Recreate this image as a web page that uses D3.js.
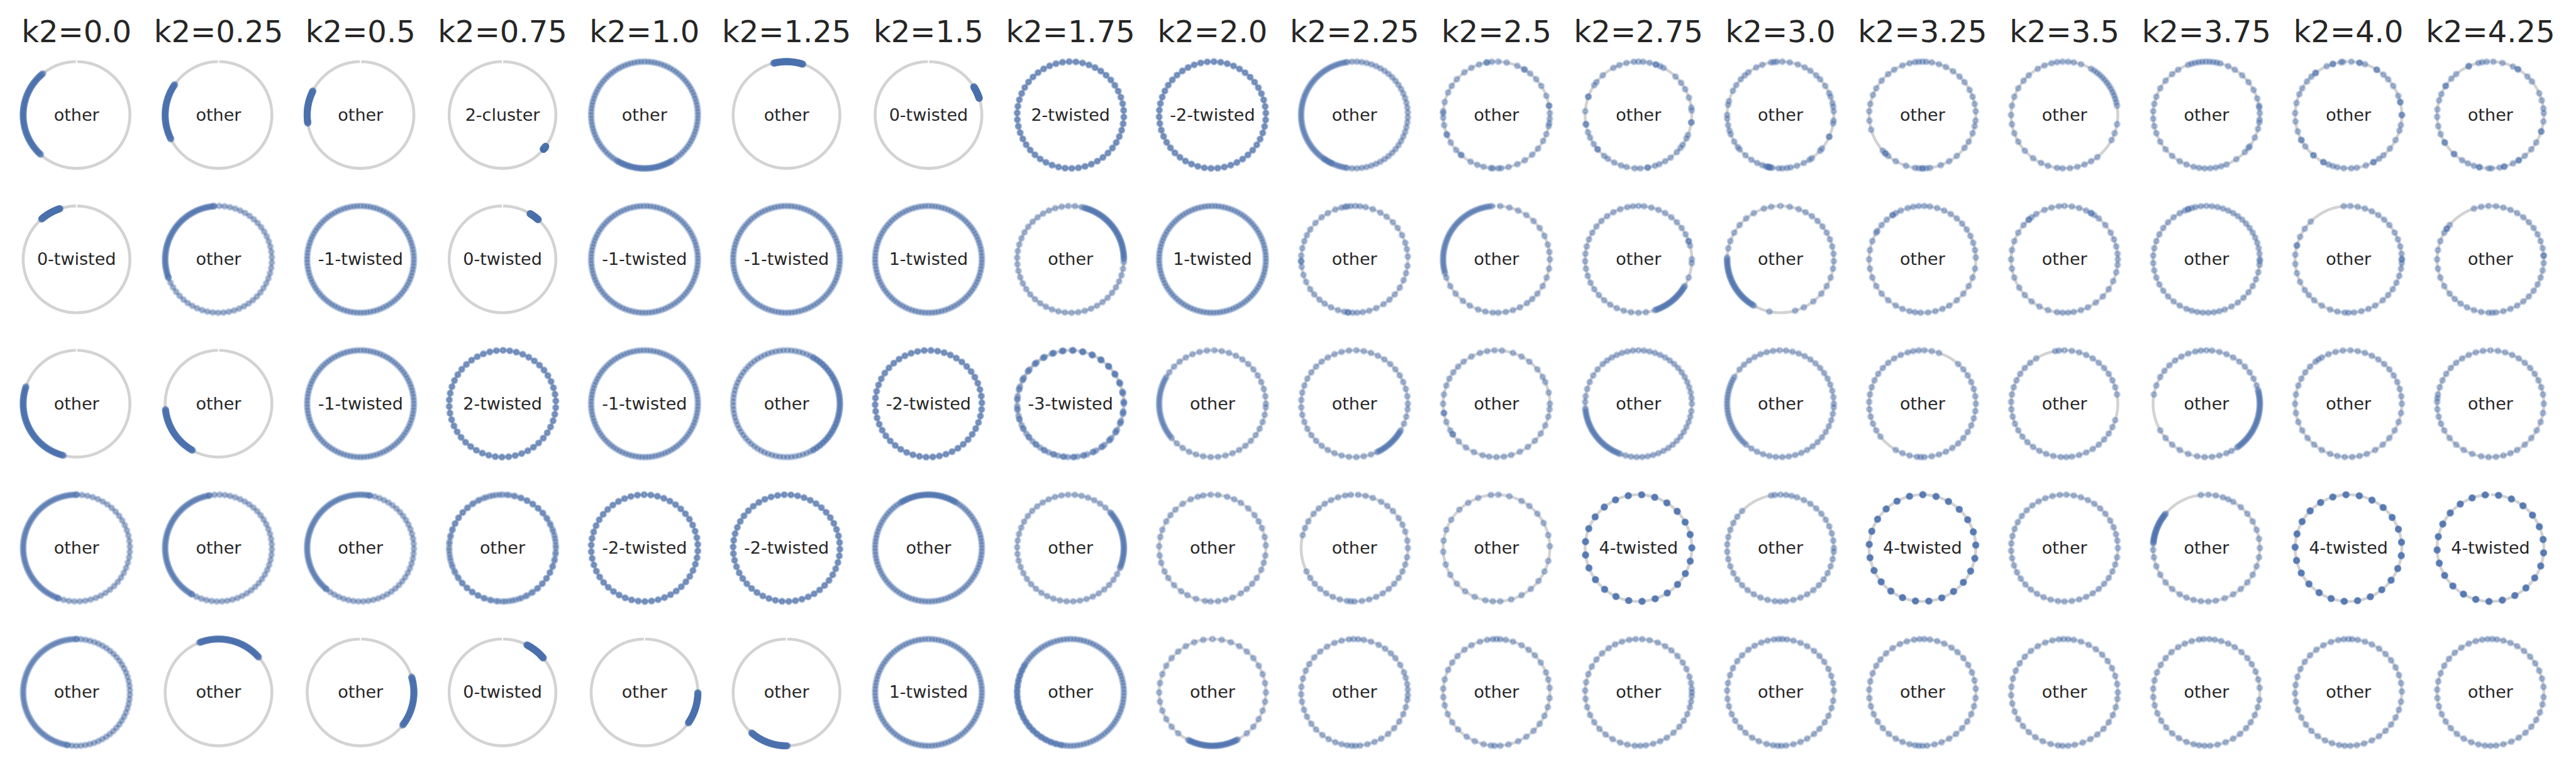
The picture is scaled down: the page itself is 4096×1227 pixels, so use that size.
<!DOCTYPE html>
<html><head><meta charset="utf-8">
<script src="https://cdn.jsdelivr.net/npm/d3@7"></script>
<style>html,body{margin:0;padding:0;background:#fff;}svg{display:block;}</style>
</head><body>
<script>
// ---------- DATA ----------
const k2Values = ["0.0","0.25","0.5","0.75","1.0","1.25","1.5","1.75","2.0","2.25","2.5","2.75","3.0","3.25","3.5","3.75","4.0","4.25"];

const statesRow1 = ["other","other","other","2-cluster","other","other","0-twisted","2-twisted","-2-twisted","other","other","other","other","other","other","other","other","other"];
const statesRow2 = ["0-twisted","other","-1-twisted","0-twisted","-1-twisted","-1-twisted","1-twisted","other","1-twisted","other","other","other","other","other","other","other","other","other"];
const statesRow3 = ["other","other","-1-twisted","2-twisted","-1-twisted","other","-2-twisted","-3-twisted","other","other","other","other","other","other","other","other","other","other"];
const statesRow4 = ["other","other","other","other","-2-twisted","-2-twisted","other","other","other","other","other","4-twisted","other","4-twisted","other","other","4-twisted","4-twisted"];
const statesRow5 = ["other","other","other","0-twisted","other","other","1-twisted","other","other","other","other","other","other","other","other","other","other","other"];

// Oscillator phases (degrees, 0 = right, counter-clockwise).
// A number is one oscillator; [from, to, count] is a run of oscillators read as evenly packed.
const phasesRow1 = [
  [[129,228,100]],
  [[145,207,100]],
  [[153,189,100]],
  [[320,324,100]],
  [[0,360,100],[240,300,20]],
  [[72,104,100]],
  [[18,32,100]],
  [[5,365,50],[5,365,50]],
  [[2,362,50],[2,362,50]],
  [[100,260,58],[262,458,38],236,240,244],
  [2,10,10,21,33,42,51,58,59,67,79,88,95,100,101,109,118,127,138,147,155,166,176,178,183,191,201,202,211,221,228,229,241,249,256,264,266,272,275,283,293,302,312,321,331,339,348,351,356],
  [5,8,19,29,37,46,62,66,71,71,78,85,90,95,103,111,118,132,142,146,160,160,176,190,190,199,205,213,220,220,230,235,243,251,257,266,272,280,280,288,293,300,307,316,322,326,334,338,352,352],
  [184,180,169,165,153,146,138,132,127,117,110,100,97,94,88,80,71,63,56,48,42,33,24,20,13,9,4,354,351,336,336,321,318,306,303,296,288,281,277,272,268,261,259,258,257,256,254,250,244,237,229,220,217,210,201,197,191],
  [4,12,20,28,38,46,55,64,72,80,86,90,94,98,104,112,122,130,140,150,158,168,176,186,196,222,226,226,230,240,252,262,266,270,270,274,278,290,300,310,322,330,340,348,354],
  [[10,60,14],72,80,86,92,98,104,112,120,132,140,150,160,170,180,190,200,210,222,234,244,252,262,268,276,284,292,300,308,332,340,350],
  [[75,110,10],122,130,140,150,160,168,176,184,192,200,210,220,230,240,248,256,262,268,274,280,286,292,304,316,322,324,335,345,352,355,2,8,10,18,28,38,48,58,66],
  [114,107,107,98,96,87,78,78,72,58,58,49,42,33,21,14,14,0,0,349,343,332,321,311,305,298,298,289,279,273,265,258,253,248,242,242,229,229,216,208,208,198,187,178,167,157,150,141,134,128,128],
  [114,114,103,99,94,87,77,65,59,59,46,39,24,16,7,2,353,342,342,329,320,310,302,302,295,285,285,280,271,268,258,258,252,245,238,227,227,211,211,201,192,182,174,164,157,147,147,137,130]
];

const phasesRow2 = [
  [[108,131,100]],
  [[95,200,55],[200,455,45]],
  [[0,360,100]],
  [[48,59,100]],
  [[1,361,100]],
  [[2,362,100]],
  [[0,360,100]],
  [[0,75,45],[78,357,40]],
  [[1,361,100]],
  [3,11,18,27,36,44,53,61,70,78,84,89,94,98,100,104,111,120,128,137,146,153,160,168,176,182,182,188,197,205,214,221,229,236,244,252,259,263,263,268,273,279,286,294,303,311,319,328,337,345,353],
  [[95,195,40],200,210,220,231,240,250,258,266,272,280,288,296,305,312,320,330,340,350,0,8,16,26,36,46,56,66,76,86],
  [[288,330,25],0,15,20,20,28,36,44,52,60,68,76,84,90,96,102,110,118,126,134,142,150,158,166,174,182,190,198,206,214,222,230,238,246,254,262,270,278,340,356],
  [[178,240,35],100,108,120,130,140,150,160,168,90,80,70,62,54,46,38,30,22,14,6,358,350,340,330,320,308,296,258,286],
  [2,10,18,26,34,42,50,58,66,74,82,88,94,100,106,114,120,124,124,132,140,148,150,160,170,180,190,200,210,220,230,240,248,256,262,268,276,284,292,300,310,320,330,340,350],
  [0,6,14,22,30,40,50,56,60,60,66,74,82,90,96,104,112,122,128,132,132,140,150,160,170,180,190,200,212,222,232,242,252,262,268,274,280,288,296,306,316,326,336,346,354],
  [0,6,12,18,24,30,36,42,48,54,60,66,72,78,84,90,96,102,106,110,110,114,120,128,136,144,152,160,168,176,184,192,200,208,216,224,232,240,248,254,260,266,272,278,284,290,298,306,314,322,330,338,346,354,358],
  [135,145,155,165,165,175,185,195,205,215,222,230,240,250,258,266,270,276,284,292,300,310,318,326,334,342,350,356,0,0,6,14,22,30,40,48,56,64,72,80,88,95],
  [140,145,145,150,160,170,180,190,200,210,220,228,236,244,252,260,268,272,276,284,292,300,308,316,324,332,340,348,356,4,4,12,20,28,36,44,52,60,68,76,84,92,100,108]
];

const phasesRow3 = [
  [[161,256,100]],
  [[186,241,100]],
  [[0,360,100]],
  [[3,363,50],[3,363,50]],
  [[1,361,100]],
  [[0,360,85],[-60,60,30]],
  [[1,361,50],[1,361,50]],
  [[0,360,33],[1.2,361.2,33],[2.4,362.4,34]],
  [[150,220,25],0,8,16,24,32,40,48,56,64,72,80,88,96,104,112,120,128,136,144,228,236,244,252,260,268,276,284,292,300,308,316,324,332,340,348,356],
  [[295,330,18],0,8,16,24,32,40,48,56,64,72,80,88,96,104,112,120,128,136,144,152,160,168,176,184,192,200,208,216,224,232,240,248,256,264,272,280,288,338,346,354],
  [0,12,24,30,40,52,62,72,84,92,100,108,118,128,136,144,152,160,170,180,190,190,200,210,215,215,225,235,245,255,262,270,278,286,296,306,316,326,336,346,354],
  [[185,250,30],0,6,12,18,24,30,36,42,48,54,60,66,72,78,84,90,96,102,108,114,120,126,132,140,148,156,164,172,178,256,262,268,274,280,286,292,298,304,310,316,322,328,334,340,346,352],
  [[150,230,25],0,7,14,21,28,35,42,49,56,63,70,77,84,91,98,105,112,119,126,133,140,237,244,251,258,265,272,279,286,293,300,307,314,321,328,335,342,349,356],
  [0,8,16,24,32,40,48,72,80,88,94,100,106,114,122,130,138,146,154,162,170,178,186,194,202,210,218,240,248,256,264,268,272,280,288,296,304,312,320,328,336,344,352],
  [10,18,26,34,42,50,58,66,74,82,90,96,100,122,130,138,146,154,162,170,178,186,194,202,210,218,226,234,242,250,258,266,272,278,286,294,302,310,318,326,334,342],
  [[305,375,35],20,28,36,44,52,60,68,76,84,90,96,102,110,118,126,134,142,150,160,170,210,220,230,240,250,260,268,276,284,292,298],
  [0,8,16,24,32,40,48,56,64,72,80,88,96,104,112,120,124,128,136,144,152,160,170,180,190,200,210,220,230,240,250,258,266,274,282,290,300,310,320,330,340,350],
  [0,10,18,26,34,42,50,58,66,74,82,90,98,106,114,122,130,138,146,154,162,170,174,178,186,194,202,210,220,230,240,250,260,268,276,284,292,300,310,320,330,340,350]
];

const phasesRow4 = [
  [[90,250,65],[250,450,35]],
  [[100,240,60],[240,460,40]],
  [[80,230,60],[230,440,40]],
  [[0,360,52],[3,363,48]],
  [[4,364,50],[4,364,50]],
  [[6,366,50],[6,366,50]],
  [[0,360,100],[60,120,20]],
  [[-20,40,30],[42,338,42]],
  [3,12,22,30,38,48,58,66,74,84,92,100,106,114,124,134,142,150,160,168,178,188,196,206,214,224,234,242,252,262,268,276,284,292,302,310,318,326,336,344,352],
  [0,8,18,26,34,44,52,60,70,78,86,94,100,108,116,124,132,140,150,158,166,206,214,222,230,238,246,254,262,266,270,278,286,294,302,310,318,326,334,342,350],
  [2,14,28,40,52,62,76,88,96,110,122,134,148,160,172,184,198,210,222,234,246,258,266,274,286,298,310,322,334,346],
  [[0,360,25],[0,360,25],[0.5,360.5,25],[0.5,360.5,25]],
  [0,8,16,24,32,40,48,56,64,72,78,84,90,96,100,136,144,152,160,168,176,184,192,200,208,216,224,232,240,248,256,264,270,276,284,292,300,308,316,324,332,340,348,356],
  [[3,363,25],[3,363,25],[3.5,363.5,25],[3.5,363.5,25]],
  [0,8,15,23,31,40,48,56,64,72,80,88,95,103,111,119,127,135,143,151,159,167,175,183,191,199,207,215,223,231,239,247,255,263,270,278,286,294,302,310,318,326,334,342,350],
  [[140,175,25],60,66,72,80,88,96,50,40,30,20,10,0,350,340,330,320,310,300,290,280,272,264,256,248,240,230,220,210,200,190,182],
  [[6,366,25],[6,366,25],[6.5,366.5,25],[6.5,366.5,25]],
  [[9,369,25],[9,369,25],[9.5,369.5,25],[9.5,369.5,25]]
];

const phasesRow5 = [
  [[90,260,60],[260,450,40]],
  [[41,111,100]],
  [[-38,17,100]],
  [[40,63,100]],
  [[-35,0,100]],
  [[229,271,100]],
  [[0,360,100]],
  [[0,360,100],[150,260,20]],
  [[243,298,35],0,10,20,30,40,50,60,70,80,90,100,110,120,130,140,150,160,170,180,190,200,210,220,230,310,320,330,340,350],
  [3,9,16,22,31,40,47,55,63,72,80,86,91,96,104,112,121,130,139,148,156,165,174,182,190,199,207,216,224,233,241,249,256,262,267,271,276,284,292,300,309,318,327,336,344,352,357],
  [5,14,22,34,44,53,62,72,80,86,90,94,100,108,118,127,137,146,155,166,176,185,194,204,214,224,236,246,256,264,268,274,283,294,304,314,324,334,344,354],
  [0,4,10,17,26,34,43,52,60,69,78,86,93,100,108,116,124,133,142,151,160,169,178,187,196,205,214,223,232,241,250,258,266,272,278,286,294,302,311,320,328,336,344,350,356],
  [2,10,18,26,35,43,51,60,68,76,83,88,92,97,104,111,119,127,136,144,153,161,170,178,187,195,204,212,221,229,238,246,255,262,267,271,276,284,292,300,309,317,326,334,343,351],
  [4,13,22,31,40,49,57,66,74,82,88,93,99,107,115,124,133,142,150,159,168,177,186,195,204,213,222,231,240,248,256,262,266,270,275,283,291,300,309,318,327,336,345,354],
  [0,9,18,27,36,45,54,63,72,80,86,91,96,103,111,120,129,138,147,156,165,174,183,192,201,210,219,228,237,246,255,263,268,274,281,290,299,308,317,326,335,344,353],
  [5,14,23,32,40,49,58,66,74,81,87,93,98,106,114,122,131,140,149,158,167,176,185,194,203,212,221,230,239,248,256,262,268,274,282,291,300,309,318,326,335,344,352],
  [1,10,19,28,37,46,55,64,72,80,86,90,95,101,109,118,127,136,145,154,163,172,181,190,199,208,217,226,235,244,252,260,266,272,279,287,296,305,314,323,332,341,350],
  [6,15,24,33,42,51,60,68,76,83,88,93,99,106,114,123,132,141,150,159,168,177,186,195,204,213,222,231,240,249,257,264,270,276,284,293,302,311,320,329,338,347,355]
];

const stateRows = [statesRow1, statesRow2, statesRow3, statesRow4, statesRow5];
const phaseRows = [phasesRow1, phasesRow2, phasesRow3, phasesRow4, phasesRow5];

// ---------- DRAWING ----------
const W = 4096, H = 1227, S = 0.962;
const svg = d3.select("body").append("svg").attr("width", W).attr("height", H)
  .style("font-family", "'DejaVu Sans', sans-serif");

const rowIds = d3.range(stateRows.length);
const x = d3.scalePoint().domain(k2Values).range([126.5 * S, (126.5 + 17 * 234.7) * S]);
const y = d3.scalePoint().domain(rowIds).range([190 * S, (190 + 4 * 238.5) * S]);
const R = 88.2 * S;
const toRad = d3.scaleLinear().domain([0, 360]).range([0, 2 * Math.PI]);
const blue = "#4c72b0";

function expand(cell) {
  const out = [];
  cell.forEach(it => {
    if (typeof it === "number") { out.push(it); return; }
    const [a, b, n] = it;
    const full = (b - a) >= 360;
    const step = full ? (b - a) / n : (n > 1 ? (b - a) / (n - 1) : 0);
    for (let k = 0; k < n; k++) out.push(a + step * k);
  });
  return out;
}

// titles
svg.append("g").selectAll("text").data(k2Values).join("text")
  .attr("x", d => x(d)).attr("y", 69.3 * S)
  .attr("text-anchor", "middle").attr("font-size", 48).attr("fill", "#262626")
  .text(d => "k2=" + d);

const ring = d3.arc().innerRadius(R - 2.4 * S).outerRadius(R + 2.4 * S)
  .startAngle(0.012).endAngle(2 * Math.PI - 0.012);

rowIds.forEach(ri => {
  k2Values.forEach((k, ci) => {
    const cx = x(k), cy = y(ri);
    const g = svg.append("g").attr("transform", `translate(${cx},${cy})`);
    g.append("path").attr("d", ring()).attr("fill", "#d3d3d3");
    const pts = expand(phaseRows[ri][ci]);
    g.append("g").selectAll("circle").data(pts).join("circle")
      .attr("cx", d => R * Math.cos(toRad(d)))
      .attr("cy", d => -R * Math.sin(toRad(d)))
      .attr("r", 3.7)
      .attr("fill", blue).attr("fill-opacity", 0.35)
      .attr("stroke", blue).attr("stroke-opacity", 0.35).attr("stroke-width", 3.9);
    g.append("text").attr("x", 0).attr("y", 9.3 * S)
      .attr("text-anchor", "middle").attr("font-size", 27).attr("fill", "#262626")
      .text(stateRows[ri][ci]);
  });
});
</script>
</body></html>
